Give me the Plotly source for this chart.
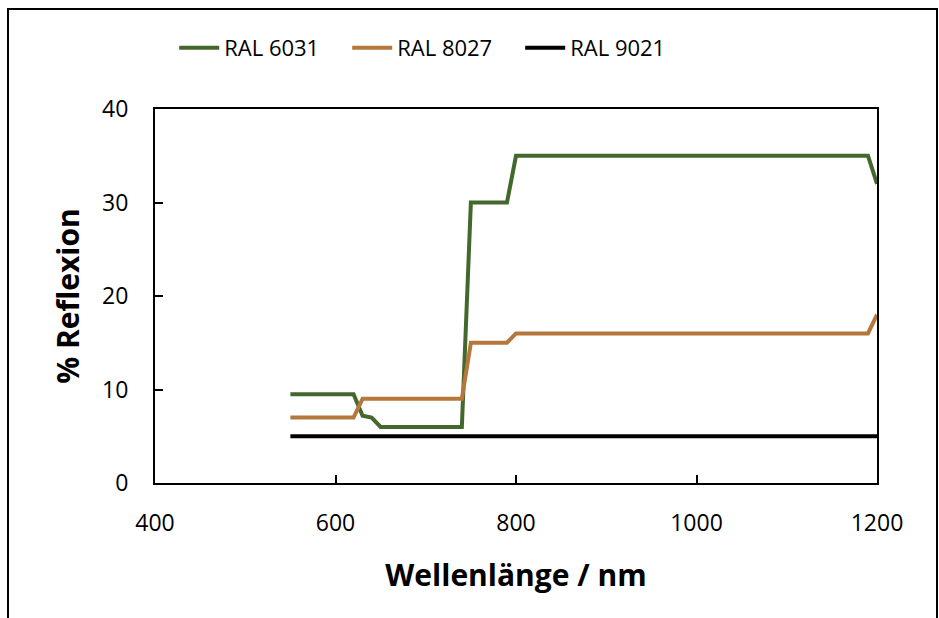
import plotly.graph_objects as go

wavelength = [550, 620, 630, 640, 650, 740, 750, 790, 800, 1190, 1200]
ral_6031 = [9.5, 9.5, 7.2, 7.0, 6.0, 6.0, 30.0, 30.0, 35.0, 35.0, 32.0]
ral_8027 = [7.0, 7.0, 9.0, 9.0, 9.0, 9.0, 15.0, 15.0, 16.0, 16.0, 18.0]
ral_9021 = [5.0, 5.0, 5.0, 5.0, 5.0, 5.0, 5.0, 5.0, 5.0, 5.0, 5.0]

series_names = ["RAL 6031", "RAL 8027", "RAL 9021"]
series_colors = ["#43682b", "#b5773b", "#000000"]

FONT = "Open Sans, Lato, sans-serif"

fig = go.Figure()
for name, vals, col in zip(series_names, [ral_6031, ral_8027, ral_9021], series_colors):
    fig.add_trace(go.Scatter(x=wavelength, y=vals, mode="lines", name=name,
                             line=dict(color=col, width=4)))

L, R, T, B = 155, 62, 109, 135
W, H = 939, 618
pw = W - L - R
ph = H - T - B

fig.update_layout(
    width=W, height=H,
    margin=dict(l=L, r=R, t=T, b=B),
    paper_bgcolor="white", plot_bgcolor="white",
    font=dict(family=FONT, size=21, color="#000000"),
    showlegend=True,
    legend=dict(orientation="h", x=0.386, xanchor="center",
                y=(H - B - 48) / ph, yanchor="middle",
                font=dict(size=22, family=FONT), entrywidth=118, itemwidth=40,
                bgcolor="rgba(0,0,0,0)"),
    xaxis=dict(range=[400, 1200], tickvals=[400, 600, 800, 1000, 1200],
               showgrid=False, zeroline=False, showline=True, mirror=True,
               linecolor="#000000", linewidth=2, ticks="inside", ticklen=8,
               tickwidth=2, tickcolor="#000000", ticklabelstandoff=18,
               tickfont=dict(size=23, family=FONT),
               title=dict(text="<b>Wellenlänge / nm</b>", standoff=28,
                          font=dict(size=30, family=FONT))),
    yaxis=dict(range=[0, 40], tickvals=[0, 10, 20, 30, 40],
               showgrid=False, zeroline=False, showline=True, mirror=True,
               linecolor="#000000", linewidth=2, ticks="inside", ticklen=8,
               tickwidth=2, tickcolor="#000000", ticklabelstandoff=20,
               tickfont=dict(size=23, family=FONT),
               title=dict(text="<b>% Reflexion</b>", standoff=14,
                          font=dict(size=30, family=FONT))),
)

# outer chart frame
fig.add_shape(type="rect", xref="paper", yref="paper",
              x0=(8 - L) / pw, x1=(937 - L) / pw,
              y0=(H - B - 640) / ph, y1=(H - B - 9) / ph,
              line=dict(color="#000000", width=2), fillcolor="rgba(0,0,0,0)",
              layer="above")

fig.write_html("out.html")
